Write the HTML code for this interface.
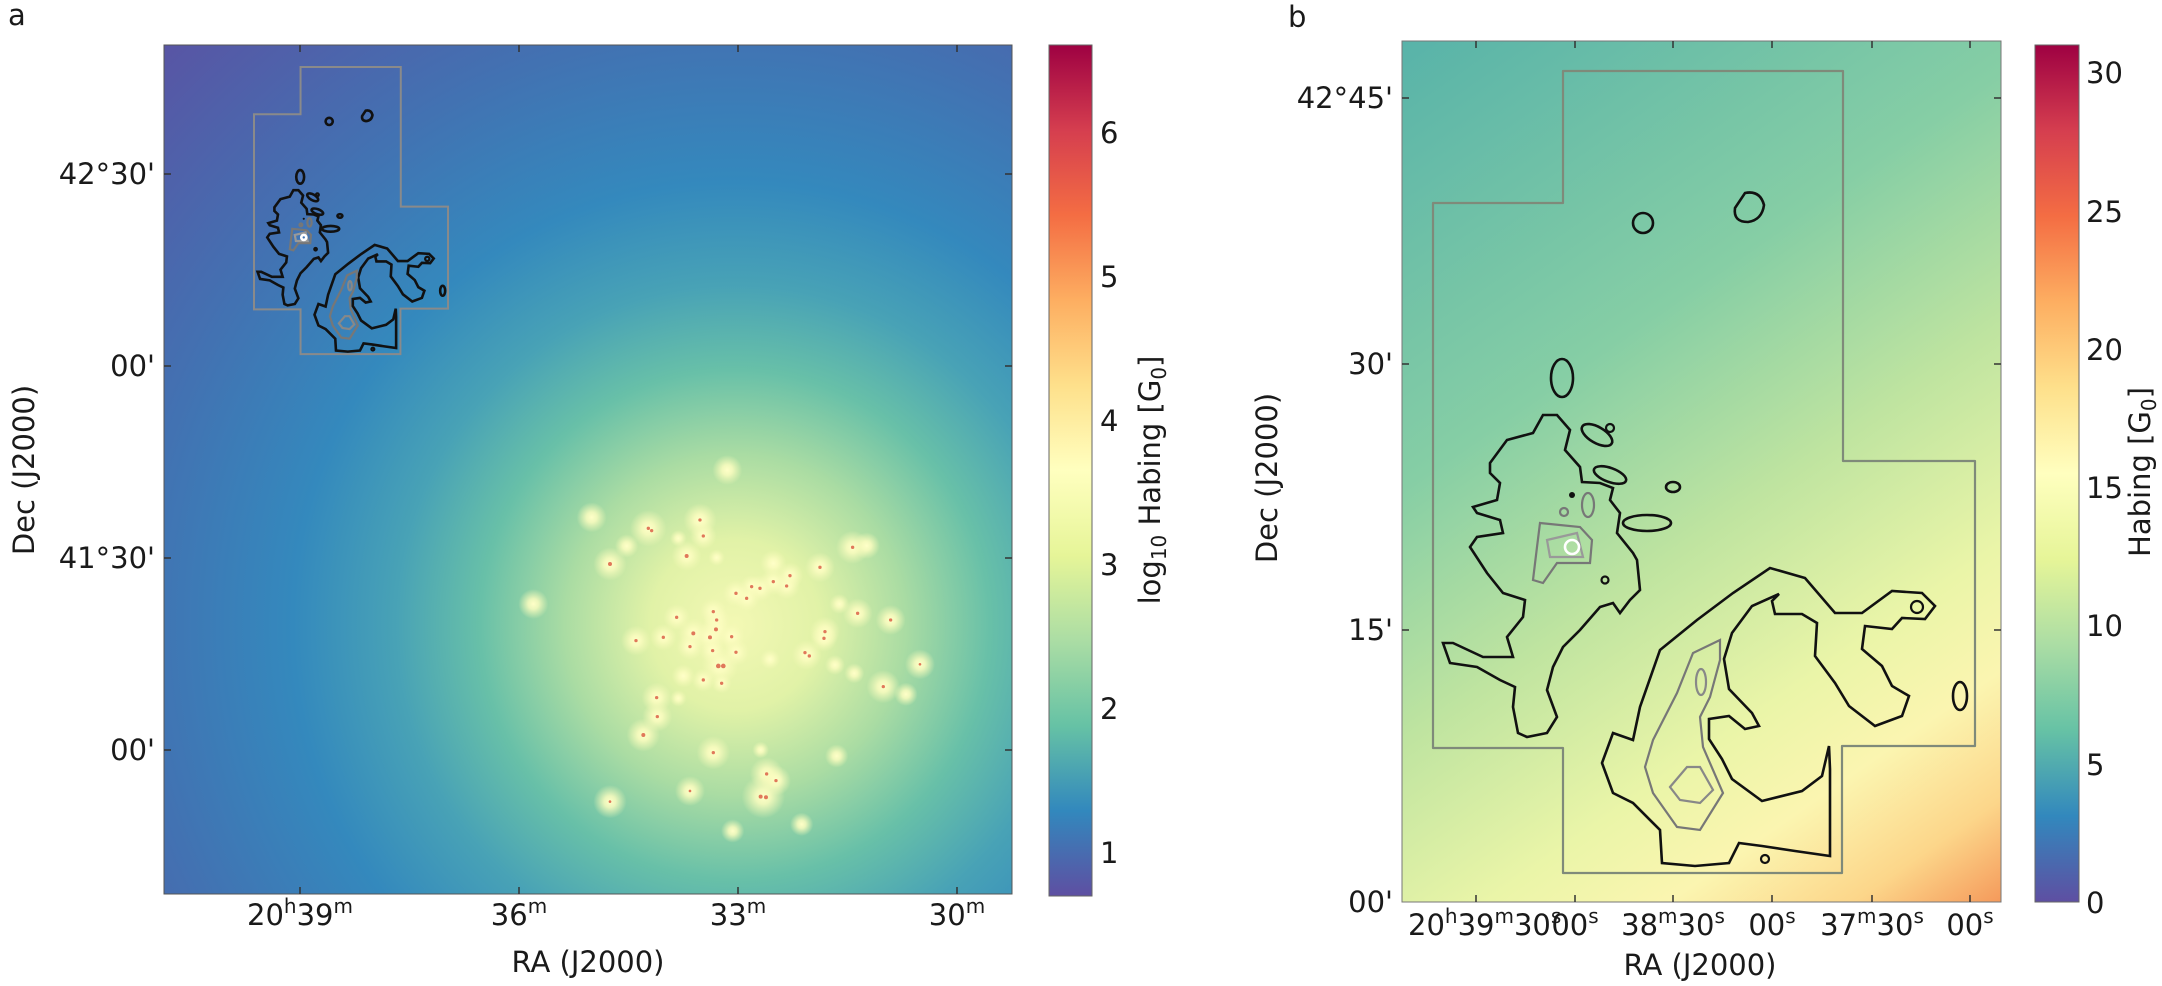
<!DOCTYPE html>
<html><head><meta charset="utf-8"><style>
html,body{margin:0;padding:0;background:#fff;}
svg{display:block;}
text{font-family:"DejaVu Sans","Liberation Sans",sans-serif;fill:#1a1a1a;}
</style></head><body>
<svg width="2162" height="986" viewBox="0 0 2162 986" xmlns="http://www.w3.org/2000/svg">
<defs>
<radialGradient id="ga" gradientUnits="userSpaceOnUse" cx="735" cy="625" r="850">
<stop offset="0" stop-color="#f3f8b4"/><stop offset="0.1" stop-color="#e1f2a7"/>
<stop offset="0.2" stop-color="#aadca3"/><stop offset="0.3" stop-color="#68c0a8"/>
<stop offset="0.4" stop-color="#48a2b6"/><stop offset="0.52" stop-color="#3489bd"/>
<stop offset="0.7" stop-color="#4272b2"/><stop offset="1" stop-color="#5c50a2"/>
</radialGradient>
<linearGradient id="gb" gradientUnits="userSpaceOnUse" x1="1402" y1="42" x2="2000" y2="902">
<stop offset="0" stop-color="#58b3a9"/><stop offset="0.35" stop-color="#86cea5"/>
<stop offset="0.55" stop-color="#bfe4a0"/><stop offset="0.72" stop-color="#eaf5a8"/>
<stop offset="0.82" stop-color="#fbf5b0"/><stop offset="0.92" stop-color="#fcd68a"/>
<stop offset="1" stop-color="#f59a5b"/>
</linearGradient>
<linearGradient id="cb" x1="0" y1="1" x2="0" y2="0">
<stop offset="0" stop-color="#5e4fa2"/><stop offset="0.1" stop-color="#3288bd"/>
<stop offset="0.2" stop-color="#66c2a5"/><stop offset="0.3" stop-color="#abdda4"/>
<stop offset="0.4" stop-color="#e6f598"/><stop offset="0.5" stop-color="#ffffbf"/>
<stop offset="0.6" stop-color="#fee08b"/><stop offset="0.7" stop-color="#fdae61"/>
<stop offset="0.8" stop-color="#f46d43"/><stop offset="0.9" stop-color="#d53e4f"/>
<stop offset="1" stop-color="#9e0142"/>
</linearGradient>
<radialGradient id="star">
<stop offset="0" stop-color="#ffffc8" stop-opacity="1"/>
<stop offset="0.35" stop-color="#fcfdc0" stop-opacity="0.85"/>
<stop offset="1" stop-color="#f6f9b8" stop-opacity="0"/>
</radialGradient>
<clipPath id="clipa"><rect x="164" y="45" width="848" height="849"/></clipPath>
<g id="contours">
<g vector-effect="non-scaling-stroke">
<path vector-effect="non-scaling-stroke" fill="none" stroke="#111" stroke-width="2.6" d="M1543,415 L1557,415 L1570,430 L1565,450 L1580,467 L1582,482 L1600,483 L1613,488 L1610,500 L1620,513 L1617,533 L1633,553 L1637,560 L1640,590 L1630,600 L1620,613 L1613,603 L1600,607 L1580,630 L1563,647 L1553,667 L1547,690 L1557,717 L1547,733 L1527,737 L1518,733 L1513,707 L1515,687 L1500,680 L1477,667 L1450,663 L1443,643 L1453,643 L1483,657 L1513,657 L1507,637 L1523,617 L1525,600 L1503,593 L1487,573 L1470,547 L1477,537 L1503,533 L1500,520 L1477,513 L1473,507 L1497,500 L1500,483 L1490,473 L1490,463 L1507,440 L1533,433 Z"/>
<ellipse vector-effect="non-scaling-stroke" cx="1597" cy="435" rx="17" ry="8" transform="rotate(30 1597 435)" fill="none" stroke="#111" stroke-width="2.6"/>
<circle vector-effect="non-scaling-stroke" cx="1610" cy="428" r="4" fill="none" stroke="#111" stroke-width="2.2"/>
<ellipse vector-effect="non-scaling-stroke" cx="1610" cy="475" rx="17" ry="7" transform="rotate(20 1610 475)" fill="none" stroke="#111" stroke-width="2.6"/>
<ellipse vector-effect="non-scaling-stroke" cx="1673" cy="487" rx="7" ry="5" fill="none" stroke="#111" stroke-width="2.6"/>
<ellipse vector-effect="non-scaling-stroke" cx="1647" cy="523" rx="24" ry="8" fill="none" stroke="#111" stroke-width="2.6"/>
<circle vector-effect="non-scaling-stroke" cx="1605" cy="580" r="3.5" fill="none" stroke="#111" stroke-width="2.2"/>
<circle cx="1572" cy="495" r="3" fill="#111"/>
<ellipse vector-effect="non-scaling-stroke" cx="1588" cy="505" rx="6" ry="12" fill="none" stroke="#777" stroke-width="2.2"/>
<circle vector-effect="non-scaling-stroke" cx="1564" cy="512" r="4" fill="none" stroke="#777" stroke-width="2.2"/>
<path vector-effect="non-scaling-stroke" fill="none" stroke="#777" stroke-width="2.2" d="M1540,523 L1580,527 L1592,540 L1590,563 L1557,563 L1543,583 L1533,580 L1537,547 Z"/>
<path vector-effect="non-scaling-stroke" fill="none" stroke="#999" stroke-width="2.2" d="M1547,540 L1577,533 L1583,557 L1550,557 Z"/>
<circle vector-effect="non-scaling-stroke" cx="1572" cy="547" r="7" fill="none" stroke="#fff" stroke-width="2.6"/>
<circle vector-effect="non-scaling-stroke" cx="1643" cy="223" r="10" fill="none" stroke="#111" stroke-width="2.6"/>
<path vector-effect="non-scaling-stroke" fill="none" stroke="#111" stroke-width="2.6" d="M1745,193 Q1760,190 1764,205 Q1762,220 1748,222 Q1733,222 1735,208 Z"/>
<ellipse vector-effect="non-scaling-stroke" cx="1562" cy="378" rx="11" ry="19" fill="none" stroke="#111" stroke-width="2.6"/>
<path vector-effect="non-scaling-stroke" fill="none" stroke="#111" stroke-width="2.6" d="M1613,733 L1633,740 L1640,707 L1660,650 L1697,620 L1733,593 L1770,568 L1805,578 L1835,613 L1862,613 L1892,591 L1922,593 L1935,606 L1925,619 L1902,618 L1892,629 L1865,626 L1862,649 L1882,666 L1892,686 L1909,696 L1902,716 L1875,726 L1849,706 L1835,683 L1815,656 L1817,623 L1802,614 L1775,614 L1772,601 L1779,594 L1752,606 L1732,633 L1724,659 L1729,689 L1752,713 L1759,726 L1745,729 L1729,716 L1709,719 L1709,739 L1722,759 L1732,779 L1762,801 L1802,791 L1822,776 L1829,746 L1830,769 L1830,856 L1795,851 L1762,846 L1739,843 L1729,863 L1695,866 L1662,863 L1660,830 L1633,803 L1613,793 L1602,763 Z"/>
<path vector-effect="non-scaling-stroke" fill="none" stroke="#777" stroke-width="2.2" d="M1653,740 L1677,693 L1693,653 L1720,640 L1720,660 L1710,697 L1700,717 L1703,747 L1723,793 L1700,830 L1677,827 L1653,793 L1645,767 Z"/>
<path vector-effect="non-scaling-stroke" fill="none" stroke="#888" stroke-width="2.2" d="M1670,787 L1687,767 L1700,767 L1713,790 L1700,803 L1680,800 Z"/>
<ellipse vector-effect="non-scaling-stroke" cx="1701" cy="682" rx="5" ry="13" fill="none" stroke="#888" stroke-width="2.2"/>
<ellipse vector-effect="non-scaling-stroke" cx="1960" cy="696" rx="7" ry="14" fill="none" stroke="#111" stroke-width="2.6"/>
<circle vector-effect="non-scaling-stroke" cx="1765" cy="859" r="4" fill="none" stroke="#111" stroke-width="2.2"/>
<circle vector-effect="non-scaling-stroke" cx="1917" cy="607" r="6" fill="none" stroke="#111" stroke-width="2.2"/>
</g>
</g>
</defs>

<!-- Panel a -->
<rect x="164" y="45" width="848" height="849" fill="url(#ga)"/>
<g clip-path="url(#clipa)">
<g transform="translate(520,430) scale(0.3333)">
<g fill="url(#star)">
<circle cx="622" cy="120" r="45"/><circle cx="215" cy="262" r="45"/><circle cx="385" cy="295" r="55"/><circle cx="540" cy="270" r="50"/><circle cx="550" cy="318" r="40"/><circle cx="320" cy="348" r="35"/><circle cx="270" cy="402" r="50"/><circle cx="500" cy="378" r="45"/><circle cx="590" cy="383" r="25"/><circle cx="475" cy="325" r="25"/><circle cx="998" cy="352" r="50"/><circle cx="1040" cy="347" r="40"/><circle cx="900" cy="412" r="45"/><circle cx="760" cy="400" r="40"/><circle cx="810" cy="437" r="40"/><circle cx="800" cy="468" r="40"/><circle cx="760" cy="455" r="40"/><circle cx="720" cy="475" r="40"/><circle cx="695" cy="470" r="35"/><circle cx="680" cy="505" r="40"/><circle cx="648" cy="490" r="40"/><circle cx="40" cy="522" r="45"/><circle cx="958" cy="522" r="30"/><circle cx="1013" cy="550" r="45"/><circle cx="1112" cy="570" r="45"/><circle cx="348" cy="632" r="45"/><circle cx="430" cy="622" r="40"/><circle cx="470" cy="562" r="40"/><circle cx="520" cy="610" r="45"/><circle cx="580" cy="545" r="40"/><circle cx="590" cy="570" r="40"/><circle cx="588" cy="598" r="45"/><circle cx="570" cy="622" r="45"/><circle cx="510" cy="650" r="40"/><circle cx="578" cy="662" r="40"/><circle cx="635" cy="620" r="40"/><circle cx="648" cy="667" r="40"/><circle cx="600" cy="708" r="55"/><circle cx="750" cy="688" r="30"/><circle cx="915" cy="605" r="45"/><circle cx="912" cy="625" r="40"/><circle cx="860" cy="675" r="45"/><circle cx="945" cy="705" r="30"/><circle cx="1003" cy="730" r="30"/><circle cx="1200" cy="703" r="45"/><circle cx="1090" cy="770" r="50"/><circle cx="1158" cy="793" r="35"/><circle cx="490" cy="738" r="35"/><circle cx="550" cy="750" r="35"/><circle cx="605" cy="760" r="30"/><circle cx="410" cy="803" r="45"/><circle cx="412" cy="860" r="45"/><circle cx="475" cy="805" r="25"/><circle cx="370" cy="915" r="50"/><circle cx="580" cy="968" r="50"/><circle cx="950" cy="978" r="35"/><circle cx="740" cy="1032" r="50"/><circle cx="768" cy="1052" r="45"/><circle cx="730" cy="1100" r="65"/><circle cx="510" cy="1083" r="45"/><circle cx="270" cy="1115" r="50"/><circle cx="845" cy="1183" r="35"/><circle cx="638" cy="1203" r="35"/><circle cx="722" cy="960" r="25"/>
</g>
<g fill="#e0785a">
<circle cx="385" cy="295" r="5"/><circle cx="395" cy="302" r="5"/><circle cx="540" cy="270" r="5"/><circle cx="550" cy="318" r="5"/><circle cx="270" cy="402" r="6"/><circle cx="500" cy="378" r="6"/><circle cx="998" cy="352" r="5"/><circle cx="900" cy="412" r="5"/><circle cx="810" cy="437" r="5"/><circle cx="800" cy="468" r="5"/><circle cx="760" cy="455" r="5"/><circle cx="720" cy="475" r="5"/><circle cx="695" cy="470" r="5"/><circle cx="680" cy="505" r="5"/><circle cx="648" cy="490" r="5"/><circle cx="1013" cy="550" r="5"/><circle cx="1112" cy="570" r="5"/><circle cx="348" cy="632" r="5"/><circle cx="430" cy="622" r="5"/><circle cx="470" cy="562" r="5"/><circle cx="520" cy="610" r="6"/><circle cx="580" cy="545" r="5"/><circle cx="590" cy="570" r="5"/><circle cx="588" cy="598" r="6"/><circle cx="570" cy="622" r="6"/><circle cx="510" cy="650" r="5"/><circle cx="578" cy="662" r="5"/><circle cx="635" cy="620" r="5"/><circle cx="648" cy="667" r="5"/><circle cx="595" cy="708" r="7"/><circle cx="610" cy="708" r="7"/><circle cx="915" cy="605" r="5"/><circle cx="912" cy="625" r="5"/><circle cx="855" cy="668" r="5"/><circle cx="868" cy="678" r="5"/><circle cx="1090" cy="770" r="5"/><circle cx="550" cy="750" r="5"/><circle cx="605" cy="760" r="5"/><circle cx="410" cy="803" r="5"/><circle cx="412" cy="860" r="5"/><circle cx="370" cy="915" r="6"/><circle cx="580" cy="968" r="5"/><circle cx="740" cy="1032" r="5"/><circle cx="768" cy="1052" r="5"/><circle cx="722" cy="1100" r="6"/><circle cx="738" cy="1102" r="6"/><circle cx="1200" cy="703" r="4"/><circle cx="510" cy="1083" r="4"/><circle cx="270" cy="1115" r="4"/>
</g>
</g>
<g transform="translate(254,67) scale(0.358) translate(-1433,-71)">
<path vector-effect="non-scaling-stroke" d="M1563,71 H1843 V461 H1975 V746 H1842 V873 H1563 V748 H1433 V203 H1563 Z" fill="none" stroke="#8a8a8a" stroke-width="2"/>
<use href="#contours" />
</g>
</g>
<rect x="164" y="45" width="848" height="849" fill="none" stroke="#555" stroke-width="1"/>
<!-- ticks a -->
<g stroke="#333" stroke-width="1.5">
<line x1="300" y1="894" x2="300" y2="887"/><line x1="519" y1="894" x2="519" y2="887"/><line x1="738" y1="894" x2="738" y2="887"/><line x1="957" y1="894" x2="957" y2="887"/>
<line x1="300" y1="45" x2="300" y2="52"/><line x1="519" y1="45" x2="519" y2="52"/><line x1="738" y1="45" x2="738" y2="52"/><line x1="957" y1="45" x2="957" y2="52"/>
<line x1="164" y1="174" x2="171" y2="174"/><line x1="164" y1="366" x2="171" y2="366"/><line x1="164" y1="558" x2="171" y2="558"/><line x1="164" y1="750" x2="171" y2="750"/>
<line x1="1012" y1="174" x2="1005" y2="174"/><line x1="1012" y1="366" x2="1005" y2="366"/><line x1="1012" y1="558" x2="1005" y2="558"/><line x1="1012" y1="750" x2="1005" y2="750"/>
</g>
<g font-size="29">
<text x="155" y="184" text-anchor="end">42°30'</text>
<text x="155" y="376" text-anchor="end">00'</text>
<text x="155" y="568" text-anchor="end">41°30'</text>
<text x="155" y="760" text-anchor="end">00'</text>
<text x="300" y="925" text-anchor="middle">20<tspan font-size="20" dy="-12">h</tspan><tspan dy="12">39</tspan><tspan font-size="20" dy="-12">m</tspan></text>
<text x="519" y="925" text-anchor="middle">36<tspan font-size="20" dy="-12">m</tspan></text>
<text x="738" y="925" text-anchor="middle">33<tspan font-size="20" dy="-12">m</tspan></text>
<text x="957" y="925" text-anchor="middle">30<tspan font-size="20" dy="-12">m</tspan></text>
<text x="588" y="972" text-anchor="middle">RA (J2000)</text>
<text transform="translate(34,470) rotate(-90)" text-anchor="middle">Dec (J2000)</text>
<text x="8" y="25">a</text>
</g>
<!-- colorbar a -->
<rect x="1049" y="45" width="43" height="851" fill="url(#cb)" stroke="#666" stroke-width="1"/>
<g font-size="29">
<text x="1100" y="863">1</text><text x="1100" y="719">2</text><text x="1100" y="575">3</text>
<text x="1100" y="431">4</text><text x="1100" y="287">5</text><text x="1100" y="143">6</text>
<text transform="translate(1160,480) rotate(-90)" text-anchor="middle">log<tspan font-size="20" dy="6">10</tspan><tspan dy="-6"> Habing [G</tspan><tspan font-size="20" dy="6">0</tspan><tspan dy="-6">]</tspan></text>
</g>

<!-- Panel b -->
<rect x="1402" y="41" width="599" height="861" fill="url(#gb)"/>
<path d="M1563,71 H1843 V461 H1975 V746 H1842 V873 H1563 V748 H1433 V203 H1563 Z" fill="none" stroke="#7f8a7a" stroke-width="2.2" stroke-linejoin="round"/>
<use href="#contours"/>
<rect x="1402" y="41" width="599" height="861" fill="none" stroke="#777" stroke-width="1"/>
<g stroke="#333" stroke-width="1.5">
<line x1="1476" y1="902" x2="1476" y2="895"/><line x1="1575" y1="902" x2="1575" y2="895"/><line x1="1673" y1="902" x2="1673" y2="895"/><line x1="1772" y1="902" x2="1772" y2="895"/><line x1="1872" y1="902" x2="1872" y2="895"/><line x1="1970" y1="902" x2="1970" y2="895"/>
<line x1="1476" y1="41" x2="1476" y2="48"/><line x1="1575" y1="41" x2="1575" y2="48"/><line x1="1673" y1="41" x2="1673" y2="48"/><line x1="1772" y1="41" x2="1772" y2="48"/><line x1="1872" y1="41" x2="1872" y2="48"/><line x1="1970" y1="41" x2="1970" y2="48"/>
<line x1="1402" y1="98" x2="1409" y2="98"/><line x1="1402" y1="364" x2="1409" y2="364"/><line x1="1402" y1="630" x2="1409" y2="630"/>
<line x1="2001" y1="98" x2="1994" y2="98"/><line x1="2001" y1="364" x2="1994" y2="364"/><line x1="2001" y1="630" x2="1994" y2="630"/>
</g>
<g font-size="29">
<text x="1393" y="108" text-anchor="end">42°45'</text>
<text x="1393" y="374" text-anchor="end">30'</text>
<text x="1393" y="640" text-anchor="end">15'</text>
<text x="1393" y="912" text-anchor="end">00'</text>
<text x="1408" y="935" text-anchor="start">20<tspan font-size="20" dy="-12">h</tspan><tspan dy="12">39</tspan><tspan font-size="20" dy="-12">m</tspan><tspan dy="12">30</tspan><tspan font-size="20" dy="-12">s</tspan></text>
<text x="1575" y="935" text-anchor="middle">00<tspan font-size="20" dy="-12">s</tspan></text>
<text x="1673" y="935" text-anchor="middle">38<tspan font-size="20" dy="-12">m</tspan><tspan dy="12">30</tspan><tspan font-size="20" dy="-12">s</tspan></text>
<text x="1772" y="935" text-anchor="middle">00<tspan font-size="20" dy="-12">s</tspan></text>
<text x="1872" y="935" text-anchor="middle">37<tspan font-size="20" dy="-12">m</tspan><tspan dy="12">30</tspan><tspan font-size="20" dy="-12">s</tspan></text>
<text x="1970" y="935" text-anchor="middle">00<tspan font-size="20" dy="-12">s</tspan></text>
<text x="1700" y="975" text-anchor="middle">RA (J2000)</text>
<text transform="translate(1277,478) rotate(-90)" text-anchor="middle">Dec (J2000)</text>
<text x="1288" y="27">b</text>
</g>
<!-- colorbar b -->
<rect x="2035" y="45" width="44" height="857" fill="url(#cb)" stroke="#666" stroke-width="1"/>
<g font-size="29">
<text x="2086" y="913">0</text><text x="2086" y="775">5</text><text x="2086" y="636">10</text>
<text x="2086" y="498">15</text><text x="2086" y="360">20</text><text x="2086" y="222">25</text><text x="2086" y="83">30</text>
<text transform="translate(2150,472) rotate(-90)" text-anchor="middle">Habing [G<tspan font-size="20" dy="6">0</tspan><tspan dy="-6">]</tspan></text>
</g>
</svg>
</body></html>
